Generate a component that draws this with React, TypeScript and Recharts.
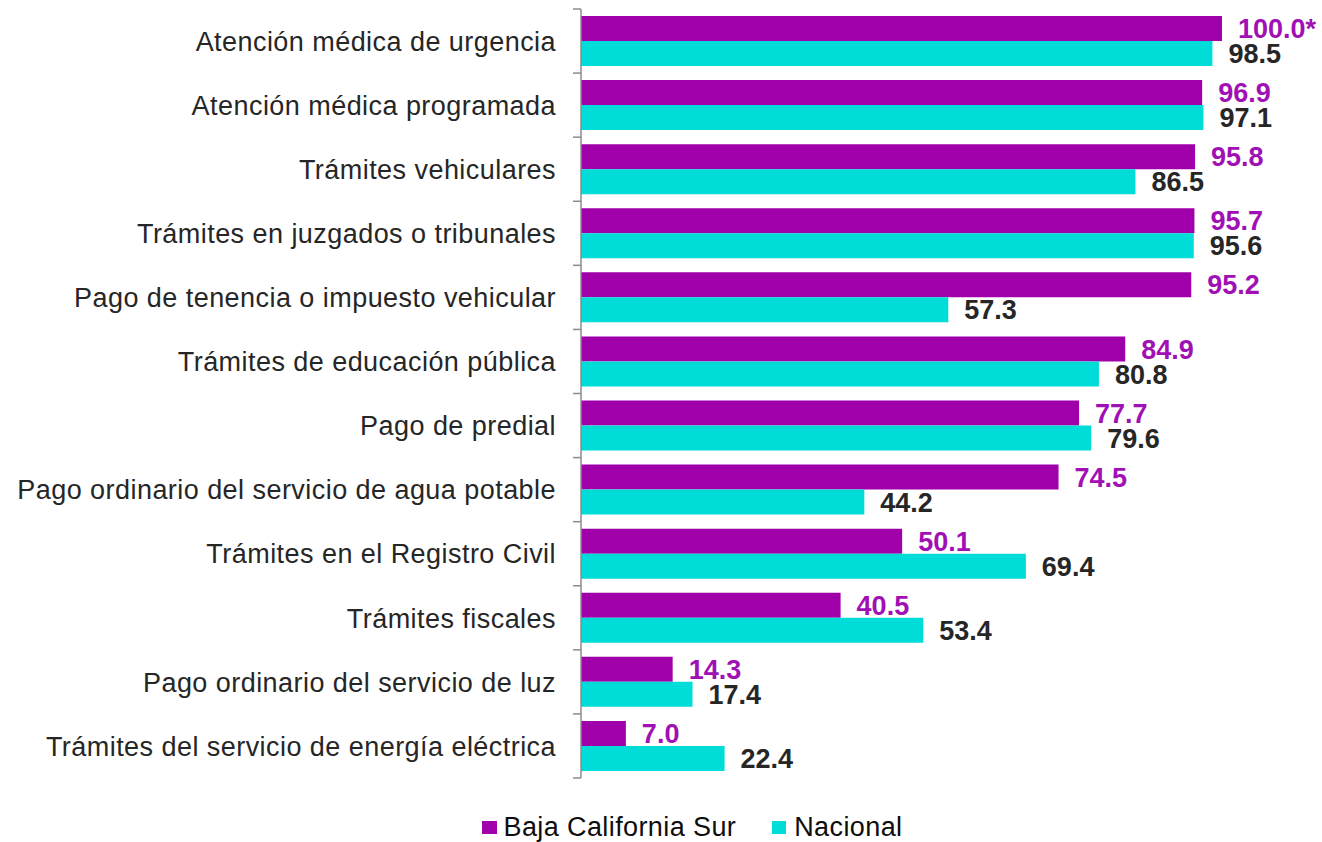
import React from "react";
import { BarChart, Bar, XAxis, YAxis, LabelList, Legend } from "recharts";

const categories = [
  "Atención médica de urgencia",
  "Atención médica programada",
  "Trámites vehiculares",
  "Trámites en juzgados o tribunales",
  "Pago de tenencia o impuesto vehicular",
  "Trámites de educación pública",
  "Pago de predial",
  "Pago ordinario del servicio de agua potable",
  "Trámites en el Registro Civil",
  "Trámites fiscales",
  "Pago ordinario del servicio de luz",
  "Trámites del servicio de energía eléctrica",
];
const bcsValues = [100.0, 96.9, 95.8, 95.7, 95.2, 84.9, 77.7, 74.5, 50.1, 40.5, 14.3, 7.0];
const bcsMarks = ["*", "", "", "", "", "", "", "", "", "", "", ""];
const nacionalValues = [98.5, 97.1, 86.5, 95.6, 57.3, 80.8, 79.6, 44.2, 69.4, 53.4, 17.4, 22.4];
const seriesNames = ["Baja California Sur", "Nacional"];

const data = categories.map((c, i) => ({
  name: c,
  bcs: bcsValues[i],
  bcsLabel: bcsValues[i].toFixed(1) + bcsMarks[i],
  nac: nacionalValues[i],
  nacLabel: nacionalValues[i].toFixed(1),
}));

const W = 1322;
const H = 842;
const M = { top: 9, right: 100, bottom: 64, left: 0 };
const BAND = (H - M.top - M.bottom) / categories.length;
const FONT = "'Liberation Sans', Arial, sans-serif";
const PURPLE = "#A000AA";
const CYAN = "#00DCD8";
const AXIS = "#8c8c8c";

const CatTick = (props: any) => {
  const { x, y, payload, index } = props;
  const last = index === categories.length - 1;
  return (
    <g>
      <line x1={x} x2={x + 8} y1={y - BAND / 2} y2={y - BAND / 2} stroke={AXIS} strokeWidth={1.5} />
      {last && <line x1={x} x2={x + 8} y1={y + BAND / 2} y2={y + BAND / 2} stroke={AXIS} strokeWidth={1.5} />}
      <text x={x - 17} y={y} dy="0.36em" textAnchor="end" fill="#262626" fontSize={27} letterSpacing={0.45} fontFamily={FONT}>
        {payload.value}
      </text>
    </g>
  );
};

const LegendContent = () => (
  <div style={{ display: "flex", justifyContent: "center", alignItems: "center", fontFamily: FONT, fontSize: 27, letterSpacing: 0.4, color: "#0d0d0d", paddingLeft: 62 }}>
    <span style={{ display: "inline-block", width: 15, height: 13, background: PURPLE, marginRight: 7 }} />
    <span style={{ marginRight: 36 }}>{seriesNames[0]}</span>
    <span style={{ display: "inline-block", width: 14, height: 13, background: CYAN, marginRight: 8 }} />
    <span>{seriesNames[1]}</span>
  </div>
);

export default function App() {
  return (
    <div style={{ position: "absolute", left: 0, top: 0, background: "#fff" }}>
      <BarChart width={W} height={H} data={data} layout="vertical" margin={M} barGap={0}>
        <XAxis type="number" domain={[0, 100]} hide />
        <YAxis
          type="category"
          dataKey="name"
          width={581}
          tickSize={8}
          tickMargin={0}
          tickLine={false}
          axisLine={{ stroke: AXIS, strokeWidth: 1.5 }}
          tick={<CatTick />}
          interval={0}
        />
        <Legend
          layout="horizontal"
          verticalAlign="middle"
          align="center"
          content={<LegendContent />}
          wrapperStyle={{ position: "absolute", top: 812, left: 0, width: W }}
        />
        <Bar dataKey="bcs" name={seriesNames[0]} fill={PURPLE} barSize={25} isAnimationActive={false}>
          <LabelList dataKey="bcsLabel" position="right" offset={16} fill="#A010B4" fontSize={27} fontWeight="bold" fontFamily={FONT} />
        </Bar>
        <Bar dataKey="nac" name={seriesNames[1]} fill={CYAN} barSize={25} isAnimationActive={false}>
          <LabelList dataKey="nacLabel" position="right" offset={16} fill="#262626" fontSize={27} fontWeight="bold" fontFamily={FONT} />
        </Bar>
      </BarChart>
    </div>
  );
}
